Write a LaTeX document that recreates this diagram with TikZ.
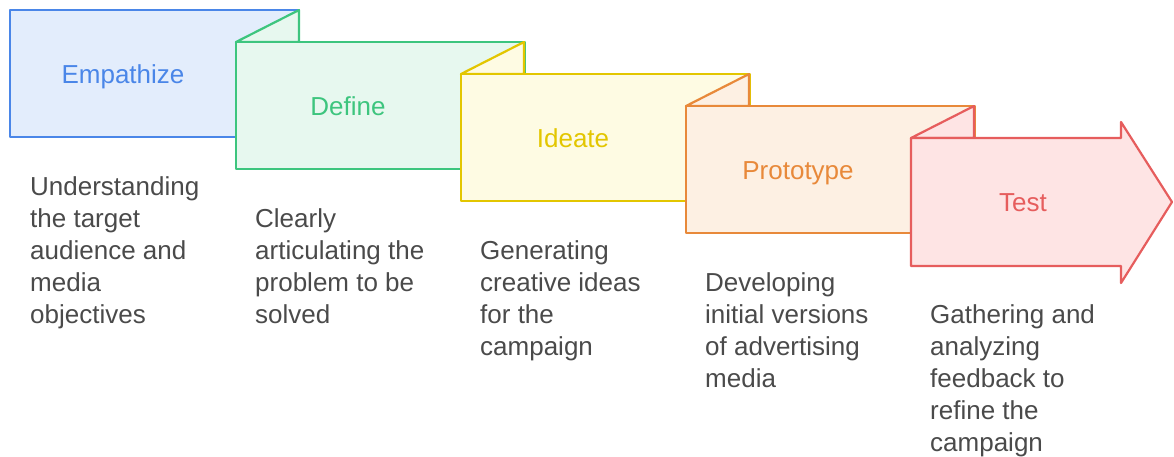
\documentclass[tikz,border=0pt]{standalone}
\usepackage{fontspec}
\setmainfont{Liberation Sans}

\definecolor{empline}{HTML}{4A86E8}
\definecolor{empfill}{HTML}{E3EDFC}
\definecolor{defline}{HTML}{3DC57E}
\definecolor{deffill}{HTML}{E7F8EF}
\definecolor{ideline}{HTML}{E3C600}
\definecolor{idefill}{HTML}{FEFBE3}
\definecolor{proline}{HTML}{E8893A}
\definecolor{profill}{HTML}{FDF0E3}
\definecolor{tstline}{HTML}{E65D5D}
\definecolor{tstfill}{HTML}{FEE4E4}
\definecolor{notegray}{HTML}{4A4A4A}

% colour prefix, left, top
\newcommand{\stagebox}[3]{%
  \filldraw[stage=#1] (#2,#3) rectangle ++(289,127);
}
% flap that folds back onto the previous box
\newcommand{\stagefold}[3]{%
  \filldraw[stage=#1] (#2,#3) -- ++(63,-32) -- ++(0,32) -- cycle;
}

\begin{document}
\begin{tikzpicture}[
        x=1pt, y=-1pt,
        stage/.style={draw=#1line, fill=#1fill, line width=2.2pt, line join=round},
        stagetitle/.style={text=#1line, font=\fontsize{26}{30}\selectfont,
          anchor=base, inner sep=0pt},
        % notes are placed by the baseline of their last line
        stagenote/.style={text=notegray, font=\fontsize{26}{32}\selectfont,
          align=left, anchor=base west, inner sep=0pt},
      ]
      \useasboundingbox (0,0) rectangle (1174,456);

      % empathize
      \stagebox{emp}{10}{10}
      \node[stagetitle=emp] (empathize) at (123,83) {Empathize};
      \node[stagenote] (empnote) at (30,323)
        {Understanding\\the target\\audience and\\media\\objectives};

      % define
      \stagefold{def}{236}{42}
      \stagebox{def}{236}{42}
      \node[stagetitle=def] (define) at (348,115) {Define};
      \node[stagenote] (defnote) at (255,323)
        {Clearly\\articulating the\\problem to be\\solved};

      % ideate
      \stagefold{ide}{461}{74}
      \stagebox{ide}{461}{74}
      \node[stagetitle=ide] (ideate) at (573,147) {Ideate};
      \node[stagenote] (idenote) at (480,355)
        {Generating\\creative ideas\\for the\\campaign};

      % prototype
      \stagefold{pro}{686}{106}
      \stagebox{pro}{686}{106}
      \node[stagetitle=pro] (prototype) at (798,179) {Prototype};
      \node[stagenote] (pronote) at (705,387)
        {Developing\\initial versions\\of advertising\\media};

      % test, drawn as the arrow head
      \stagefold{tst}{911}{138}
      \filldraw[stage=tst] (911,138) -- (1121,138) -- (1121,122) -- (1172,202)
        -- (1121,283) -- (1121,266) -- (911,266) -- cycle;
      \node[stagetitle=tst] (test) at (1023,211) {Test};
      \node[stagenote] (tstnote) at (930,451)
        {Gathering and\\analyzing\\feedback to\\refine the\\campaign};
\end{tikzpicture}
\end{document}
